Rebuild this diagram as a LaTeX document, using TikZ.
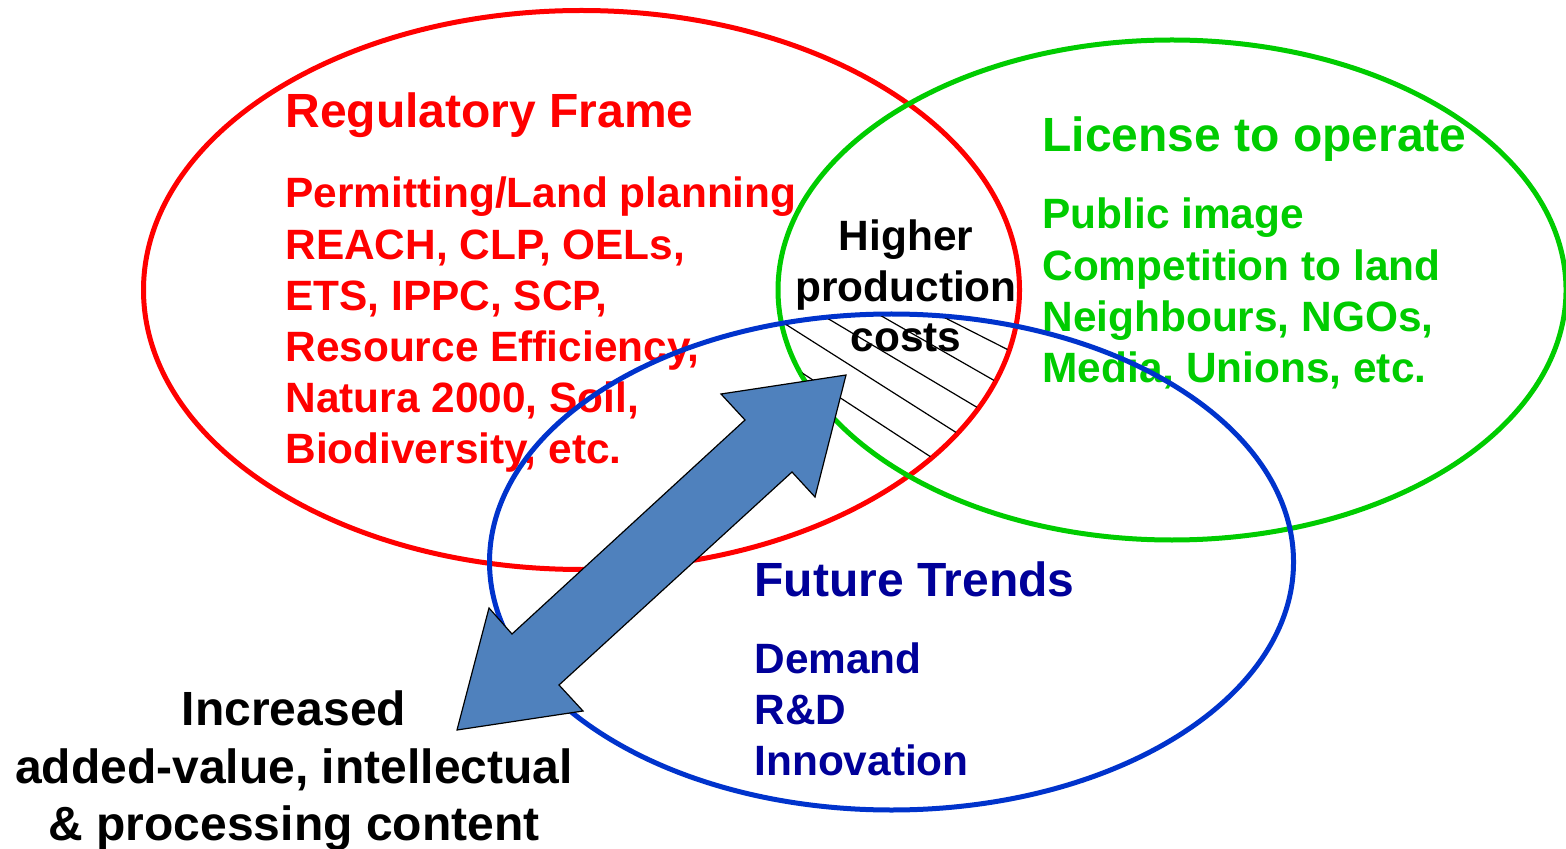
\documentclass[tikz,border=0pt]{standalone}
\usepackage{fontspec}
\setmainfont{Liberation Sans}
\definecolor{rf}{HTML}{FF0000}
\definecolor{gf}{HTML}{00CC00}
\definecolor{bt}{HTML}{000099}
\definecolor{be}{HTML}{0033CC}
\definecolor{af}{HTML}{4F81BD}
\begin{document}
\begin{tikzpicture}[x=0.5pt,y=-0.5pt,
 title/.style={anchor=base west,inner sep=0pt,font=\bfseries\fontsize{24}{28}\selectfont},
 body/.style={anchor=base west,inner sep=0pt,font=\bfseries\fontsize{21.2}{25}\selectfont},
 mid/.style={anchor=base,inner sep=0pt,font=\bfseries\fontsize{21.2}{25}\selectfont},
 big/.style={anchor=base,inner sep=0pt,font=\bfseries\fontsize{24}{28}\selectfont},
 ring/.style={line width=2.5pt},
 hatch/.style={line width=0.6pt,black},
 blockarrow/.style={fill=af,draw=black,line width=0.6pt,line join=miter}]
\useasboundingbox (0,0) rectangle (1566,849);

% Regulatory frame texts
\node[title,text=rf] (r0) at (285,128) {Regulatory Frame};
\node[body,text=rf] (r1) at (285,208) {Permitting/Land planning};
\node[body,text=rf] (r2) at (285,260) {REACH, CLP, OELs,};
\node[body,text=rf] (r3) at (285,311) {ETS, IPPC, SCP,};
\node[body,text=rf] (r4) at (285,361.5) {Resource Efficiency,};
\node[body,text=rf] (r5) at (285,412.5) {Natura 2000, Soil,};
\node[body,text=rf] (r6) at (285,463) {Biodiversity, etc.};

% License to operate texts
\node[title,text=gf] (g0) at (1042,152) {License to operate};
\node[body,text=gf] (g1) at (1042,229) {Public image};
\node[body,text=gf] (g2) at (1042,280.5) {Competition to land};
\node[body,text=gf] (g3) at (1042,331.5) {Neighbours, NGOs,};
\node[body,text=gf] (g4) at (1042,383) {Media, Unions, etc.};

% Future trends texts
\node[title,text=bt] (b0) at (754,596) {Future Trends};
\node[body,text=bt] (b1) at (754,673) {Demand};
\node[body,text=bt] (b2) at (754,724.5) {R\&D};
\node[body,text=bt] (b3) at (754,775) {Innovation};

% centre texts
\node[mid] (h1) at (906,251) {Higher};
\node[mid] (h2) at (906,301.5) {production};
\node[mid] (h3) at (906,352) {costs};

% bottom texts
\node[big] (k1) at (294,725) {Increased};
\node[big] (k2) at (294,783) {added-value, intellectual};
\node[big] (k3) at (294,840) {\& processing content};

% ellipses
\draw[ring,rf] (581.5,290) ellipse [x radius=219pt,y radius=139.75pt];
\draw[ring,gf] (1172,290) ellipse [x radius=197pt,y radius=125pt];
\draw[ring,be] (891.5,562) ellipse [x radius=201pt,y radius=124pt];

% hatching in the triple intersection
\begin{scope}
\clip (581.5,290) ellipse [x radius=218pt,y radius=138.75pt];
\clip (1172,290) ellipse [x radius=196pt,y radius=124pt];
\clip (891.5,562) ellipse [x radius=200pt,y radius=123pt];
\draw[hatch] (760,308) -- (990,454);
\draw[hatch] (790,296) -- (1010,427);
\draw[hatch] (850,298) -- (1030,401);
\draw[hatch] (900,295) -- (1040,366);
\draw[hatch] (770,352) -- (960,476);
\end{scope}

% double block arrow
\draw[blockarrow] (846,375) -- (815,497) -- (792,472) -- (559,685) -- (583,711)
  -- (457,730) -- (489,608) -- (512,634) -- (745,420) -- (721,394) -- cycle;
\end{tikzpicture}
\end{document}
